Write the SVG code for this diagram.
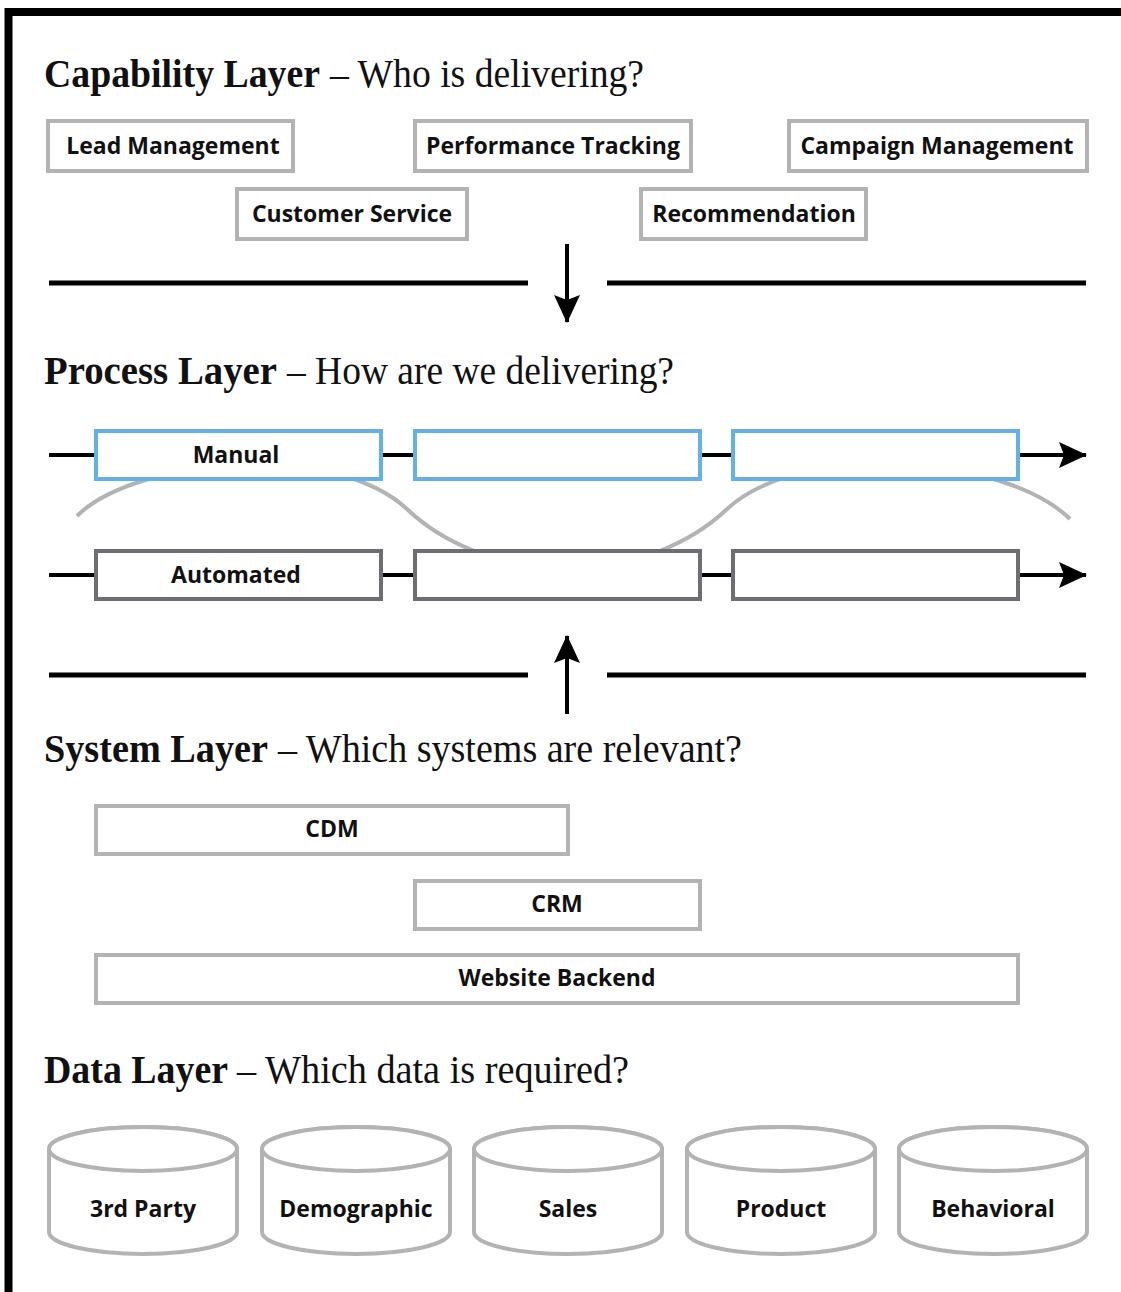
<svg xmlns="http://www.w3.org/2000/svg" width="1121" height="1292" viewBox="0 0 1121 1292">
<style>
.h{font-family:"Liberation Serif","Times New Roman",serif;font-size:40px;fill:#111}
.hb{font-weight:bold}
.lbl{font-family:"Open Sans","Noto Sans",sans-serif;font-weight:bold;font-size:23px;fill:#111;text-anchor:middle}
.cap{fill:#fff;stroke:#b3b3b3;stroke-width:4}
.man{fill:#fff;stroke:#62b1e8;stroke-width:4}
.aut{fill:#fff;stroke:#6d6e71;stroke-width:4}
.sep{stroke:#000;stroke-width:5;fill:none}
.ln{stroke:#000;stroke-width:4;fill:none}
.wave{stroke:#b3b3b3;stroke-width:4;fill:none}
</style>
<defs>
<marker id="ah" markerUnits="userSpaceOnUse" markerWidth="28" markerHeight="26" refX="27" refY="13" orient="auto">
<path d="M0,0 L28,13 L0,26 L5,13 Z" fill="#000"/>
</marker>
</defs>
<rect x="0" y="0" width="1121" height="1292" fill="#fff"/>
<rect x="8.5" y="12" width="1130" height="1300" fill="none" stroke="#000" stroke-width="8"/>

<g id="headings">
<text class="h hb" x="44" y="87" textLength="276" lengthAdjust="spacingAndGlyphs">Capability Layer</text>
<text class="h" x="330" y="87" textLength="314" lengthAdjust="spacingAndGlyphs">– Who is delivering?</text>
<text class="h hb" x="44" y="384" textLength="233" lengthAdjust="spacingAndGlyphs">Process Layer</text>
<text class="h" x="287" y="384" textLength="387" lengthAdjust="spacingAndGlyphs">– How are we delivering?</text>
<text class="h hb" x="44" y="762" textLength="224" lengthAdjust="spacingAndGlyphs">System Layer</text>
<text class="h" x="278" y="762" textLength="464" lengthAdjust="spacingAndGlyphs">– Which systems are relevant?</text>
<text class="h hb" x="44" y="1083" textLength="184" lengthAdjust="spacingAndGlyphs">Data Layer</text>
<text class="h" x="237" y="1083" textLength="392" lengthAdjust="spacingAndGlyphs">– Which data is required?</text>
</g>

<g id="connectors">
<line class="sep" x1="49" y1="283" x2="528" y2="283"/>
<line class="sep" x1="607" y1="283" x2="1086" y2="283"/>
<line class="ln" x1="567" y1="244" x2="567" y2="322" marker-end="url(#ah)"/>
<line class="sep" x1="49" y1="675" x2="528" y2="675"/>
<line class="sep" x1="607" y1="675" x2="1086" y2="675"/>
<line class="ln" x1="567" y1="714" x2="567" y2="636" marker-end="url(#ah)"/>
<path class="wave" d="M77,516 C135,458 335,440 408,510 C440,540 495,568 567,568 C639,568 694,540 726,510 C799,440 1005,455 1070,519"/>
<line class="ln" x1="49" y1="455" x2="1086" y2="455" marker-end="url(#ah)"/>
<line class="ln" x1="49" y1="575" x2="1086" y2="575" marker-end="url(#ah)"/>
</g>

<g id="cap-lead"><rect class="cap" x="48" y="121" width="245" height="50"/><text class="lbl" x="173" y="154">Lead Management</text></g>
<g id="cap-perf"><rect class="cap" x="415" y="121" width="276" height="50"/><text class="lbl" x="553" y="154">Performance Tracking</text></g>
<g id="cap-camp"><rect class="cap" x="789" y="121" width="298" height="50"/><text class="lbl" x="937" y="154">Campaign Management</text></g>
<g id="cap-cust"><rect class="cap" x="237" y="189" width="230" height="50"/><text class="lbl" x="352" y="222">Customer Service</text></g>
<g id="cap-reco"><rect class="cap" x="641" y="189" width="225" height="50"/><text class="lbl" x="754" y="222">Recommendation</text></g>

<g id="proc-manual-1"><rect class="man" x="96" y="431" width="285" height="48"/><text class="lbl" x="236" y="463">Manual</text></g>
<g id="proc-manual-2"><rect class="man" x="415" y="431" width="285" height="48"/></g>
<g id="proc-manual-3"><rect class="man" x="733" y="431" width="285" height="48"/></g>
<g id="proc-auto-1"><rect class="aut" x="96" y="551" width="285" height="48"/><text class="lbl" x="236" y="583">Automated</text></g>
<g id="proc-auto-2"><rect class="aut" x="415" y="551" width="285" height="48"/></g>
<g id="proc-auto-3"><rect class="aut" x="733" y="551" width="285" height="48"/></g>

<g id="sys-cdm"><rect class="cap" x="96" y="806" width="472" height="48"/><text class="lbl" x="332" y="837">CDM</text></g>
<g id="sys-crm"><rect class="cap" x="415" y="881" width="285" height="48"/><text class="lbl" x="557" y="912">CRM</text></g>
<g id="sys-web"><rect class="cap" x="96" y="955" width="922" height="48"/><text class="lbl" x="557" y="986">Website Backend</text></g>

<g id="data-3rd"><path class="cap" d="M49,1149 A94,22 0 0 1 237,1149 L237,1232 A94,22 0 0 1 49,1232 Z"/><ellipse class="cap" cx="143" cy="1149" rx="94" ry="22"/><text class="lbl" x="143" y="1217">3rd Party</text></g>
<g id="data-demo"><path class="cap" d="M262,1149 A94,22 0 0 1 450,1149 L450,1232 A94,22 0 0 1 262,1232 Z"/><ellipse class="cap" cx="356" cy="1149" rx="94" ry="22"/><text class="lbl" x="356" y="1217">Demographic</text></g>
<g id="data-sales"><path class="cap" d="M474,1149 A94,22 0 0 1 662,1149 L662,1232 A94,22 0 0 1 474,1232 Z"/><ellipse class="cap" cx="568" cy="1149" rx="94" ry="22"/><text class="lbl" x="568" y="1217">Sales</text></g>
<g id="data-product"><path class="cap" d="M687,1149 A94,22 0 0 1 875,1149 L875,1232 A94,22 0 0 1 687,1232 Z"/><ellipse class="cap" cx="781" cy="1149" rx="94" ry="22"/><text class="lbl" x="781" y="1217">Product</text></g>
<g id="data-behav"><path class="cap" d="M899,1149 A94,22 0 0 1 1087,1149 L1087,1232 A94,22 0 0 1 899,1232 Z"/><ellipse class="cap" cx="993" cy="1149" rx="94" ry="22"/><text class="lbl" x="993" y="1217">Behavioral</text></g>
</svg>
